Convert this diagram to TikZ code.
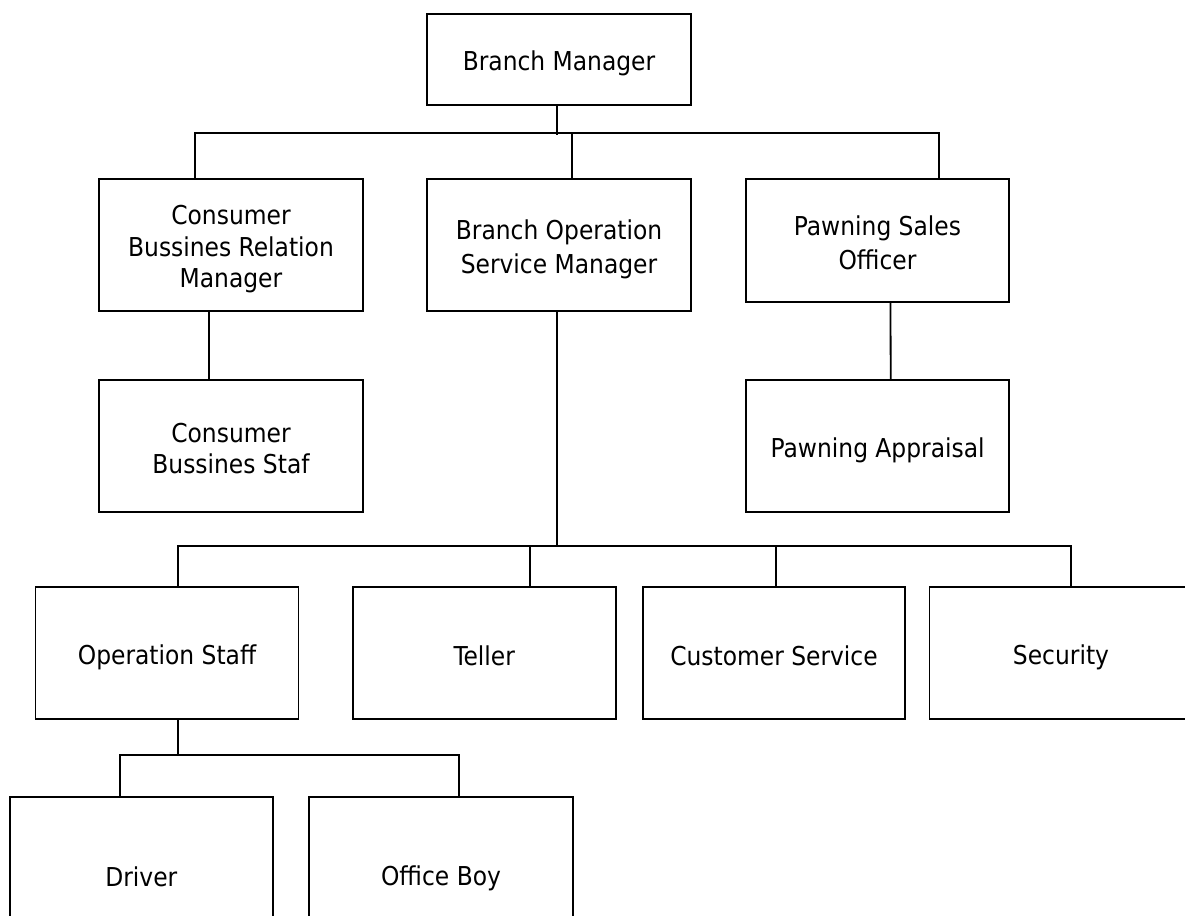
\documentclass[tikz,border=0pt]{standalone}
\usepackage{fontspec}
\setmainfont{DejaVu Sans Condensed}
% line strut: one full line of height, sitting a little high
\newcommand{\lstrut}{\rule[-3.8pt]{0pt}{31.6pt}}
\begin{document}
\begin{tikzpicture}[x=1pt,y=-1pt,
  line width=1.8pt, line join=miter,
  unit/.style={draw, align=center, inner sep=0pt, minimum width=263pt,
    minimum height=132pt, font=\fontsize{26}{31.6}\selectfont},
  link/.style={line width=1.8pt}]
\useasboundingbox (0,0) rectangle (1185,915);

% top level
\node[unit, minimum width=264pt, minimum height=91pt] (bm) at (559,59.5) {\lstrut Branch Manager};

% second level
\node[unit, minimum width=264pt] (cbrm) at (231,245) {\lstrut Consumer\\\lstrut Bussines Relation\\\lstrut Manager};
\node[unit, minimum width=264pt] (bosm) at (559,245) {\lstrut Branch Operation\\\lstrut Service Manager};
\node[unit, minimum height=123pt] (pso) at (877.5,240.5) {\lstrut Pawning Sales\\\lstrut Officer};

% third level
\node[unit, minimum width=264pt] (cbs) at (231,446) {\lstrut Consumer\\\lstrut Bussines Staf};
\node[unit] (pa) at (877.7,446) {\lstrut Pawning Appraisal};

% operations staff row
\node[unit] (ops) at (167,653) {\lstrut Operation Staff};
\node[unit] (teller) at (484.3,653) {\lstrut Teller};
\node[unit, minimum width=262pt] (cs) at (774,653) {\lstrut Customer Service};
\node[unit] (sec) at (1061,653) {\lstrut Security};

% bottom row
\node[unit, minimum height=154pt] (drv) at (141.3,874) {\lstrut Driver};
\node[unit, minimum width=264pt, minimum height=154pt] (ob) at (441,874) {\lstrut Office Boy};

% bus lines
\coordinate (bus2) at (0,546.7);
\coordinate (bus3) at (0,756);

% branch manager to second level
\draw[link] ([xshift=-2pt]bm.south) -- ++(0,29);
\draw[link] ([xshift=-36pt]cbrm.north) -- ++(0,-45) -| ([xshift=61.5pt]pso.north);
\draw[link] ([xshift=13pt]bosm.north) -- ++(0,-45);

% second to third level
\draw[link] ([xshift=-21.7pt]cbrm.south) -- ([xshift=-21.7pt]cbs.north);
\draw[link] ([xshift=13pt]pso.south) -- ([xshift=13pt]pa.north);

% branch operation to its staff
\draw[link] ([xshift=-1.7pt]bosm.south) -- ([xshift=-1.7pt]bosm.south |- bus2);
\draw[link] ([xshift=11.3pt]ops.north) -- ++(0,-40) -| ([xshift=9.7pt]sec.north);
\draw[link] ([xshift=45.7pt]teller.north) -- ++(0,-40);
\draw[link] ([xshift=2pt]cs.north) -- ++(0,-40);

% operation staff to driver and office boy
\draw[link] ([xshift=11.3pt]ops.south) -- ([xshift=11.3pt]ops.south |- bus3);
\draw[link] ([xshift=-21pt]drv.north) -- ++(0,-41) -| ([xshift=18.2pt]ob.north);
\end{tikzpicture}
\end{document}
